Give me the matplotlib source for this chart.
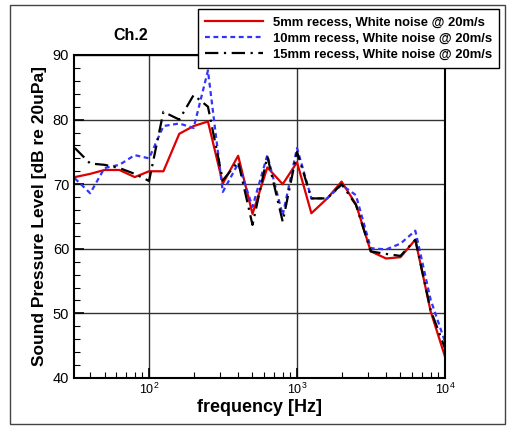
import numpy as np
import matplotlib.pyplot as plt
from matplotlib.patches import Rectangle
from matplotlib.ticker import LogLocator, MultipleLocator, FixedLocator

plt.rcParams['font.family'] = ['Liberation Sans', 'DejaVu Sans']
plt.rcParams['mathtext.fontset'] = 'custom'
plt.rcParams['mathtext.rm'] = 'Liberation Sans'

# 1/3 octave band centres
freq = [31.5, 40, 50, 63, 80, 100, 125, 160, 200, 250, 315, 400, 500, 630, 800,
        1000, 1250, 1600, 2000, 2500, 3150, 4000, 5000, 6300, 8000, 10000]

spl_5mm = [71.1, 71.6, 72.2, 72.2, 71.1, 72.0, 72.0, 77.8, 79.0, 79.7, 70.1, 74.4, 65.4,
           72.6, 70.0, 73.4, 65.5, 67.8, 70.4, 66.9, 59.6, 58.5, 58.7, 61.4, 50.3, 43.3]
spl_10mm = [70.9, 68.6, 72.5, 73.0, 74.5, 74.0, 79.0, 79.4, 78.7, 87.6, 68.8, 73.2, 66.5,
            74.5, 65.2, 75.6, 67.8, 67.8, 69.9, 68.3, 60.1, 59.9, 60.8, 62.8, 52.1, 45.6]
spl_15mm = [75.6, 73.2, 73.0, 72.5, 71.6, 70.5, 81.2, 80.0, 83.8, 82.0, 70.6, 73.5, 63.7,
            74.3, 64.2, 75.0, 67.8, 67.8, 70.0, 66.8, 59.6, 59.2, 58.9, 61.4, 50.5, 44.6]

labels = ['5mm recess, White noise @ 20m/s',
          '10mm recess, White noise @ 20m/s',
          '15mm recess, White noise @ 20m/s']

fig = plt.figure(figsize=(5.08, 4.26), dpi=100)
ax = fig.add_axes([0.1457, 0.1127, 0.7303, 0.7582])

ax.plot(freq, spl_5mm, color='#dd0000', lw=1.6, label=labels[0])
ax.plot(freq, spl_10mm, color='#3333ff', lw=1.6, dashes=(2.2, 1.6), label=labels[1])
ax.plot(freq, spl_15mm, color='black', lw=1.6, dashes=(6, 2.5, 1, 2.5), label=labels[2])

ax.set_xscale('log')
ax.set_xlim(31.1, 10000)
ax.set_ylim(40, 90)

ax.yaxis.set_major_locator(MultipleLocator(10))
ax.yaxis.set_minor_locator(MultipleLocator(2))
ax.xaxis.set_major_locator(FixedLocator([100, 1000, 10000]))
ax.xaxis.set_minor_locator(LogLocator(base=10, subs=np.arange(2, 10), numticks=20))
ax.xaxis.set_major_formatter(plt.FuncFormatter(lambda v, p: r'$10^{%d}$' % round(np.log10(v))))

ax.tick_params(which='both', direction='in', top=False, right=False)
ax.tick_params(which='major', length=7, width=1.2, labelsize=10.5)
ax.tick_params(which='minor', length=4, width=0.8)
ax.tick_params(axis='x', which='major', labelsize=9, pad=3)

ax.grid(True, which='major', color='#333333', lw=1)
for s in ax.spines.values():
    s.set_linewidth(1.5)

ax.set_xlabel('frequency [Hz]', fontsize=13, fontweight='bold', labelpad=1)
ax.set_ylabel('Sound Pressure Level [dB re 20uPa]', fontsize=12.5, fontweight='bold', labelpad=4)
fig.text(0.258, 0.916, 'Ch.2', fontsize=11.5, fontweight='bold', ha='center', va='center')

leg = fig.legend(loc='upper left', bbox_to_anchor=(198 / 508, 1 - 9 / 426),
                 prop={'size': 9.4, 'weight': 'bold'}, handlelength=4.4,
                 fancybox=False, framealpha=1, edgecolor='black',
                 borderpad=0.55, labelspacing=0.3, handletextpad=0.8, borderaxespad=0)
leg.get_frame().set_linewidth(1)

fig.patches.append(Rectangle((10 / 508, 2 / 426), 495 / 508, 419 / 426,
                             transform=fig.transFigure, fill=False,
                             edgecolor='#444444', lw=1))

fig.savefig('out.png', dpi=100)
